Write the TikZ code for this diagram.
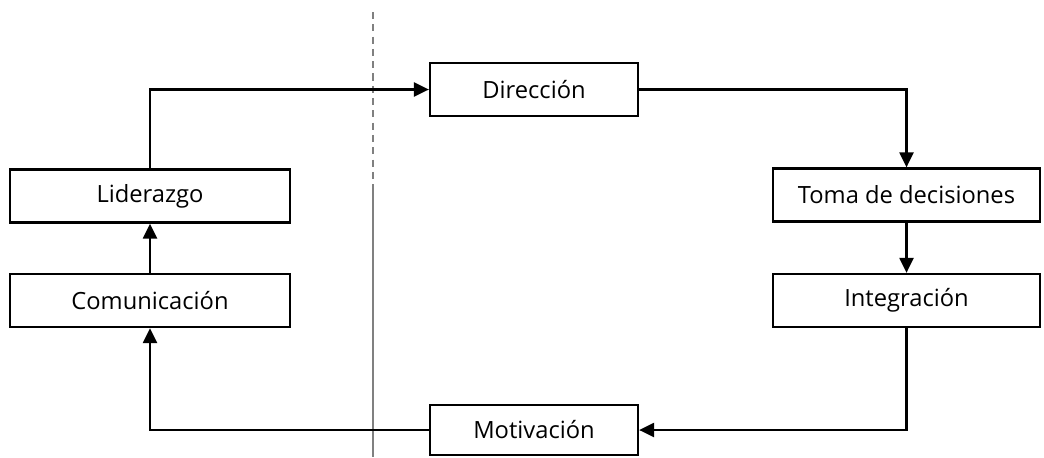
\documentclass[tikz,border=0pt]{standalone}
\usepackage{fontspec}
\setmainfont{Open Sans}
\usetikzlibrary{arrows.meta}
\begin{document}
\begin{tikzpicture}[x=0.02cm, y=-0.02cm,
       caja/.style={rectangle, draw, line width=1.3pt, minimum height=1.06cm, inner sep=0pt, font=\fontsize{13.5}{15}\selectfont},
       flecha/.style={line width=1.3pt, -{Triangle[length=0.3cm, width=0.28cm]}}]
       \useasboundingbox (0, 0) rectangle (1044, 457);
       % linea divisoria
       \coordinate (s1) at (373, 12);
       \coordinate (s2) at (373, 185);
       \coordinate (s3) at (373, 457);
       \draw[gray, line width=0.7pt, dash pattern=on 4pt off 3pt] (s1) -- (s2);
       \draw[gray, line width=0.7pt] (s2) -- (s3);

       \draw (534, 89.5) node[caja, minimum width=4.16cm](dir){Dirección}
       (150, 196) node[caja, minimum width=5.6cm](lid){Liderazgo}
       (150, 300.5) node[caja, minimum width=5.6cm](com){Comunicación}
       (906.5, 195) node[caja, minimum width=5.34cm](toma){Toma de decisiones}
       (906.5, 300.5) node[caja, minimum width=5.34cm](integ){Integración}
       (534, 430) node[caja, minimum width=4.16cm, minimum height=1cm](mot){Motivación};

       \draw[flecha] (lid.north) |- (dir.west);
       \draw[flecha] (dir.east) -| (toma.north);
       \draw[flecha] (toma.south) -- (integ.north);
       \draw[flecha] (integ.south) |- (mot.east);
       \draw[flecha] (mot.west) -| (com.south);
       \draw[flecha] (com.north) -- (lid.south);
    \end{tikzpicture}
\end{document}
